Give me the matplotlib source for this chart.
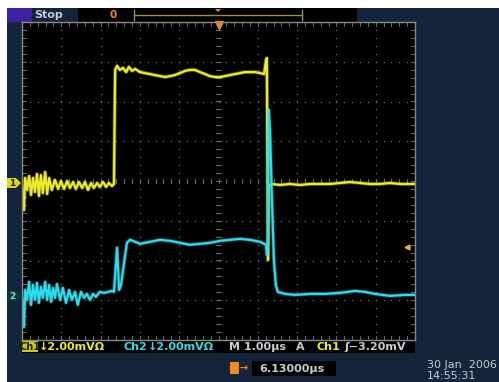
import numpy as np
import matplotlib
matplotlib.use("Agg")
import matplotlib.pyplot as plt
from matplotlib.patches import Rectangle, Polygon

# scope setup: 10 x 8 divisions, 1 us/div, 2 mV/div on both channels
N_HDIV, N_VDIV = 10, 8
T_PER_DIV = 1.0     # us
MV_PER_DIV = 2.0    # mV
CH1_GND = -0.05     # ground marker position, divisions from centre
CH2_GND = -2.89
TRIG_LEVEL = -3.20  # mV on ch1

# ch1 (yellow): time from left edge of screen in us, level in mV above ground
ch1_t = [0.00, 0.03, 0.05, 0.08, 0.13, 0.18, 0.23, 0.28, 0.33, 0.38, 0.43, 0.48,
         0.53, 0.59, 0.64, 0.69, 0.76, 0.84, 0.92, 0.99, 1.07, 1.15, 1.22, 1.30,
         1.37, 1.45, 1.53, 1.60, 1.68, 1.76, 1.83, 1.91, 1.98, 2.06, 2.14, 2.21,
         2.29, 2.34, 2.37, 2.42, 2.49, 2.57, 2.65, 2.72, 2.80, 2.88, 3.00, 3.13,
         3.26, 3.38, 3.51, 3.64, 3.77, 3.89, 4.02, 4.15, 4.27, 4.40, 4.53, 4.66,
         4.78, 4.91, 5.04, 5.17, 5.29, 5.42, 5.55, 5.67, 5.80, 5.93, 6.06, 6.16,
         6.21, 6.23, 6.26, 6.28, 6.36, 6.56, 6.82, 7.07, 7.33, 7.58, 7.84, 8.09,
         8.35, 8.60, 8.85, 9.11, 9.36, 9.62, 10.00]
ch1_mv = [-0.10, -0.86, -1.36, 0.25, -0.35, 0.35, -0.60, 0.25, -0.45, 0.45, -0.65, 0.40,
          -0.50, 0.55, -0.55, 0.25, -0.35, 0.15, -0.30, 0.10, -0.30, 0.10, -0.25, 0.05,
          -0.30, 0.05, -0.25, 0.05, -0.35, 0.00, -0.25, 0.00, -0.20, 0.05, -0.20, 0.00,
          -0.15, -0.05, 5.69, 5.89, 5.69, 5.79, 5.58, 5.84, 5.64, 5.74, 5.58, 5.53,
          5.48, 5.43, 5.38, 5.33, 5.38, 5.43, 5.53, 5.64, 5.69, 5.69, 5.58, 5.48,
          5.38, 5.33, 5.33, 5.38, 5.43, 5.48, 5.53, 5.58, 5.58, 5.58, 5.53, 5.48,
          6.19, 6.29, -3.87, -0.15, -0.05, -0.10, -0.05, -0.10, -0.05, -0.05, -0.05, 0.00,
          0.05, 0.00, -0.05, -0.05, 0.00, -0.05, -0.05]

# ch2 (cyan)
ch2_t = [0.00, 0.03, 0.05, 0.08, 0.13, 0.18, 0.23, 0.28, 0.33, 0.38, 0.43, 0.48,
         0.53, 0.59, 0.64, 0.69, 0.74, 0.79, 0.84, 0.89, 0.97, 1.04, 1.12, 1.20,
         1.27, 1.35, 1.42, 1.50, 1.58, 1.65, 1.73, 1.81, 1.88, 1.98, 2.09, 2.19,
         2.29, 2.34, 2.42, 2.47, 2.52, 2.60, 2.67, 2.75, 2.88, 3.00, 3.13, 3.26,
         3.51, 3.77, 4.02, 4.27, 4.53, 4.78, 5.04, 5.29, 5.55, 5.80, 6.06, 6.21,
         6.23, 6.26, 6.28, 6.31, 6.36, 6.41, 6.46, 6.51, 6.69, 6.95, 7.33, 7.71,
         8.09, 8.47, 8.73, 8.98, 9.36, 9.75, 10.00]
ch2_mv = [0.00, -0.70, -1.56, 0.30, -0.20, 0.70, -0.45, 0.55, -0.20, 0.65, -0.35, 0.45,
          -0.10, 0.70, -0.20, 0.55, -0.30, 0.40, -0.10, 0.60, -0.20, 0.40, -0.35, 0.30,
          -0.20, 0.20, -0.45, 0.20, -0.10, 0.10, -0.20, 0.10, -0.05, 0.20, 0.15, 0.20,
          0.25, 0.20, 2.42, 0.30, 0.55, 1.71, 2.67, 2.82, 2.72, 2.62, 2.67, 2.72,
          2.82, 2.77, 2.67, 2.57, 2.62, 2.67, 2.77, 2.82, 2.87, 2.82, 2.72, 2.57,
          2.06, 2.82, 9.36, 8.35, 4.83, 1.81, 0.55, 0.20, 0.10, 0.05, 0.10, 0.10,
          0.15, 0.25, 0.20, 0.10, 0.00, 0.05, 0.05]

NAVY = "#14243a"
GRID = "#6a6a6a"
YEL = "#ecec2c"
CYN = "#2fdcec"
ORG = "#f08a1a"
LIGHT = "#c4ccd4"

W, H = 499, 382
fig = plt.figure(figsize=(W / 100, H / 100), dpi=100)
fig.patch.set_facecolor(NAVY)

# frame in screen pixels for the bezel items
bg = fig.add_axes([0, 0, 1, 1])
bg.set_xlim(0, W)
bg.set_ylim(H, 0)
bg.axis("off")
bg.add_patch(Rectangle((0, 0), W, 8, color="white", lw=0))
bg.add_patch(Rectangle((0, 0), 7, H, color="white", lw=0))

# top bar
bg.add_patch(Rectangle((7, 8), 25, 14, color="#3c22a0", lw=0))
bg.text(34, 15.5, "Stop", color=LIGHT, fontsize=8, fontweight="bold", va="center")
bg.add_patch(Rectangle((78, 8), 279, 14, color="black", lw=0))
bg.text(113, 15.5, "0", color=ORG, fontsize=7.5, fontweight="bold", va="center", ha="center")
bg.plot([134, 302], [15, 15], color="#a08c34", lw=1)
bg.plot([134, 134], [10, 20], color="#8a8a8a", lw=1)
bg.plot([302, 302], [10, 20], color="#8a8a8a", lw=1)
bg.add_patch(Polygon([[215, 9], [221, 9], [218, 12]], color=ORG, lw=0))

# status line
bg.add_patch(Rectangle((22, 341), 393, 12, color="black", lw=0))
bg.add_patch(Rectangle((22, 341), 16, 11, color="#c8c820", lw=0))
bg.text(30, 346.5, "Ch1", color="#202000", fontsize=7, fontweight="bold",
        family=["Liberation Sans Narrow", "DejaVu Sans"], ha="center", va="center")
stat = [(39, "\u21932.00mV\u03a9", YEL), (124, "Ch2", CYN),
        (148, "\u21932.00mV\u03a9", CYN), (229, "M 1.00\u00b5s", LIGHT),
        (296, "A", LIGHT), (317, "Ch1", YEL), (344, "\u0283\u22123.20mV", LIGHT)]
for x, s, c in stat:
    bg.text(x, 346.5, s, color=c, fontsize=8, fontweight="bold", va="center")

# bottom readouts
bg.add_patch(Rectangle((230, 362), 9, 12, color=ORG, lw=0))
bg.text(244, 368, "\u2192", color=ORG, fontsize=7, fontweight="bold", ha="center", va="center")
bg.add_patch(Rectangle((252, 361), 84, 15, color="black", lw=0))
bg.text(259, 368.5, "6.13000\u00b5s", color=LIGHT, fontsize=8, fontweight="bold", va="center")
bg.text(427, 365, "30 Jan  2006", color=LIGHT, fontsize=8, va="center")
bg.text(427, 376, "14:55:31", color=LIGHT, fontsize=8, va="center")

# screen
L, T, R, B = 22, 22, 415, 340
ax = fig.add_axes([L / W, 1 - B / H, (R - L) / W, (B - T) / H])
ax.set_facecolor("black")
ax.set_xlim(0, N_HDIV)
ax.set_ylim(-N_VDIV / 2, N_VDIV / 2)
ax.set_xticks([])
ax.set_yticks([])
for s in ax.spines.values():
    s.set_color("#8a8a8a")
    s.set_linewidth(1)

# graticule dots at fifth-division spacing
fx = np.arange(0, N_HDIV + 0.01, 0.2)
fy = np.arange(-N_VDIV / 2, N_VDIV / 2 + 0.01, 0.2)
for gx in range(1, N_HDIV):
    ax.plot(np.full_like(fy, gx), fy, ls="none", marker="s", ms=0.9, color=GRID, mew=0)
for gy in range(-N_VDIV // 2 + 1, N_VDIV // 2):
    ax.plot(fx, np.full_like(fx, gy), ls="none", marker="s", ms=0.9, color=GRID, mew=0)
# centre cross and edge ticks
tk = 0.06
for x in fx:
    ax.plot([x, x], [-tk, tk], color=GRID, lw=0.7)
    ax.plot([x, x], [N_VDIV / 2 - tk * 1.5, N_VDIV / 2], color=GRID, lw=0.7)
    ax.plot([x, x], [-N_VDIV / 2, -N_VDIV / 2 + tk * 1.5], color=GRID, lw=0.7)
for y in fy:
    ax.plot([N_HDIV / 2 - tk, N_HDIV / 2 + tk], [y, y], color=GRID, lw=0.7)
    ax.plot([0, tk * 1.5], [y, y], color=GRID, lw=0.7)
    ax.plot([N_HDIV - tk * 1.5, N_HDIV], [y, y], color=GRID, lw=0.7)

# traces
t1 = np.array(ch1_t) / T_PER_DIV
y1 = CH1_GND + np.array(ch1_mv) / MV_PER_DIV
t2 = np.array(ch2_t) / T_PER_DIV
y2 = CH2_GND + np.array(ch2_mv) / MV_PER_DIV
ax.plot(t1, y1, color=YEL, lw=2.8, alpha=0.35, solid_joinstyle="round")
ax.plot(t1, y1, color=YEL, lw=1.6, solid_joinstyle="round")
ax.plot(t2, y2, color=CYN, lw=2.8, alpha=0.35, solid_joinstyle="round")
ax.plot(t2, y2, color=CYN, lw=1.6, solid_joinstyle="round")

# trigger position (top) and trigger level (right)
ax.plot(N_HDIV / 2, N_VDIV / 2 - 0.08, marker="v", ms=6, color=ORG, clip_on=False)
ax.plot(N_HDIV - 0.2, CH1_GND + TRIG_LEVEL / MV_PER_DIV, marker="<", ms=3.5, color="#d8c020")

# channel ground markers on the left edge
y_px = lambda d: (T + B) / 2 - d * (B - T) / N_VDIV
for d, fc, tc, lab in [(CH1_GND, "#d8d820", "#202000", "1"), (CH2_GND, "#0e3a3a", "#8ad8d8", "2")]:
    yc = y_px(d)
    bg.add_patch(Polygon([[7, yc - 5], [16, yc - 5], [21, yc], [16, yc + 5], [7, yc + 5]],
                         color=fc, lw=0))
    bg.text(12, yc + 0.5, lab, color=tc, fontsize=6.5, fontweight="bold", ha="center", va="center")

# trigger marker top-left
bg.add_patch(Rectangle((27, 28), 8, 9, color=ORG, lw=0))
bg.add_patch(Polygon([[27, 29], [23, 32.5], [27, 36]], color=ORG, lw=0))
bg.text(31, 32.5, "T", color="black", fontsize=5.5, fontweight="bold", ha="center", va="center")

fig.savefig("out.png", dpi=100, facecolor=NAVY)
